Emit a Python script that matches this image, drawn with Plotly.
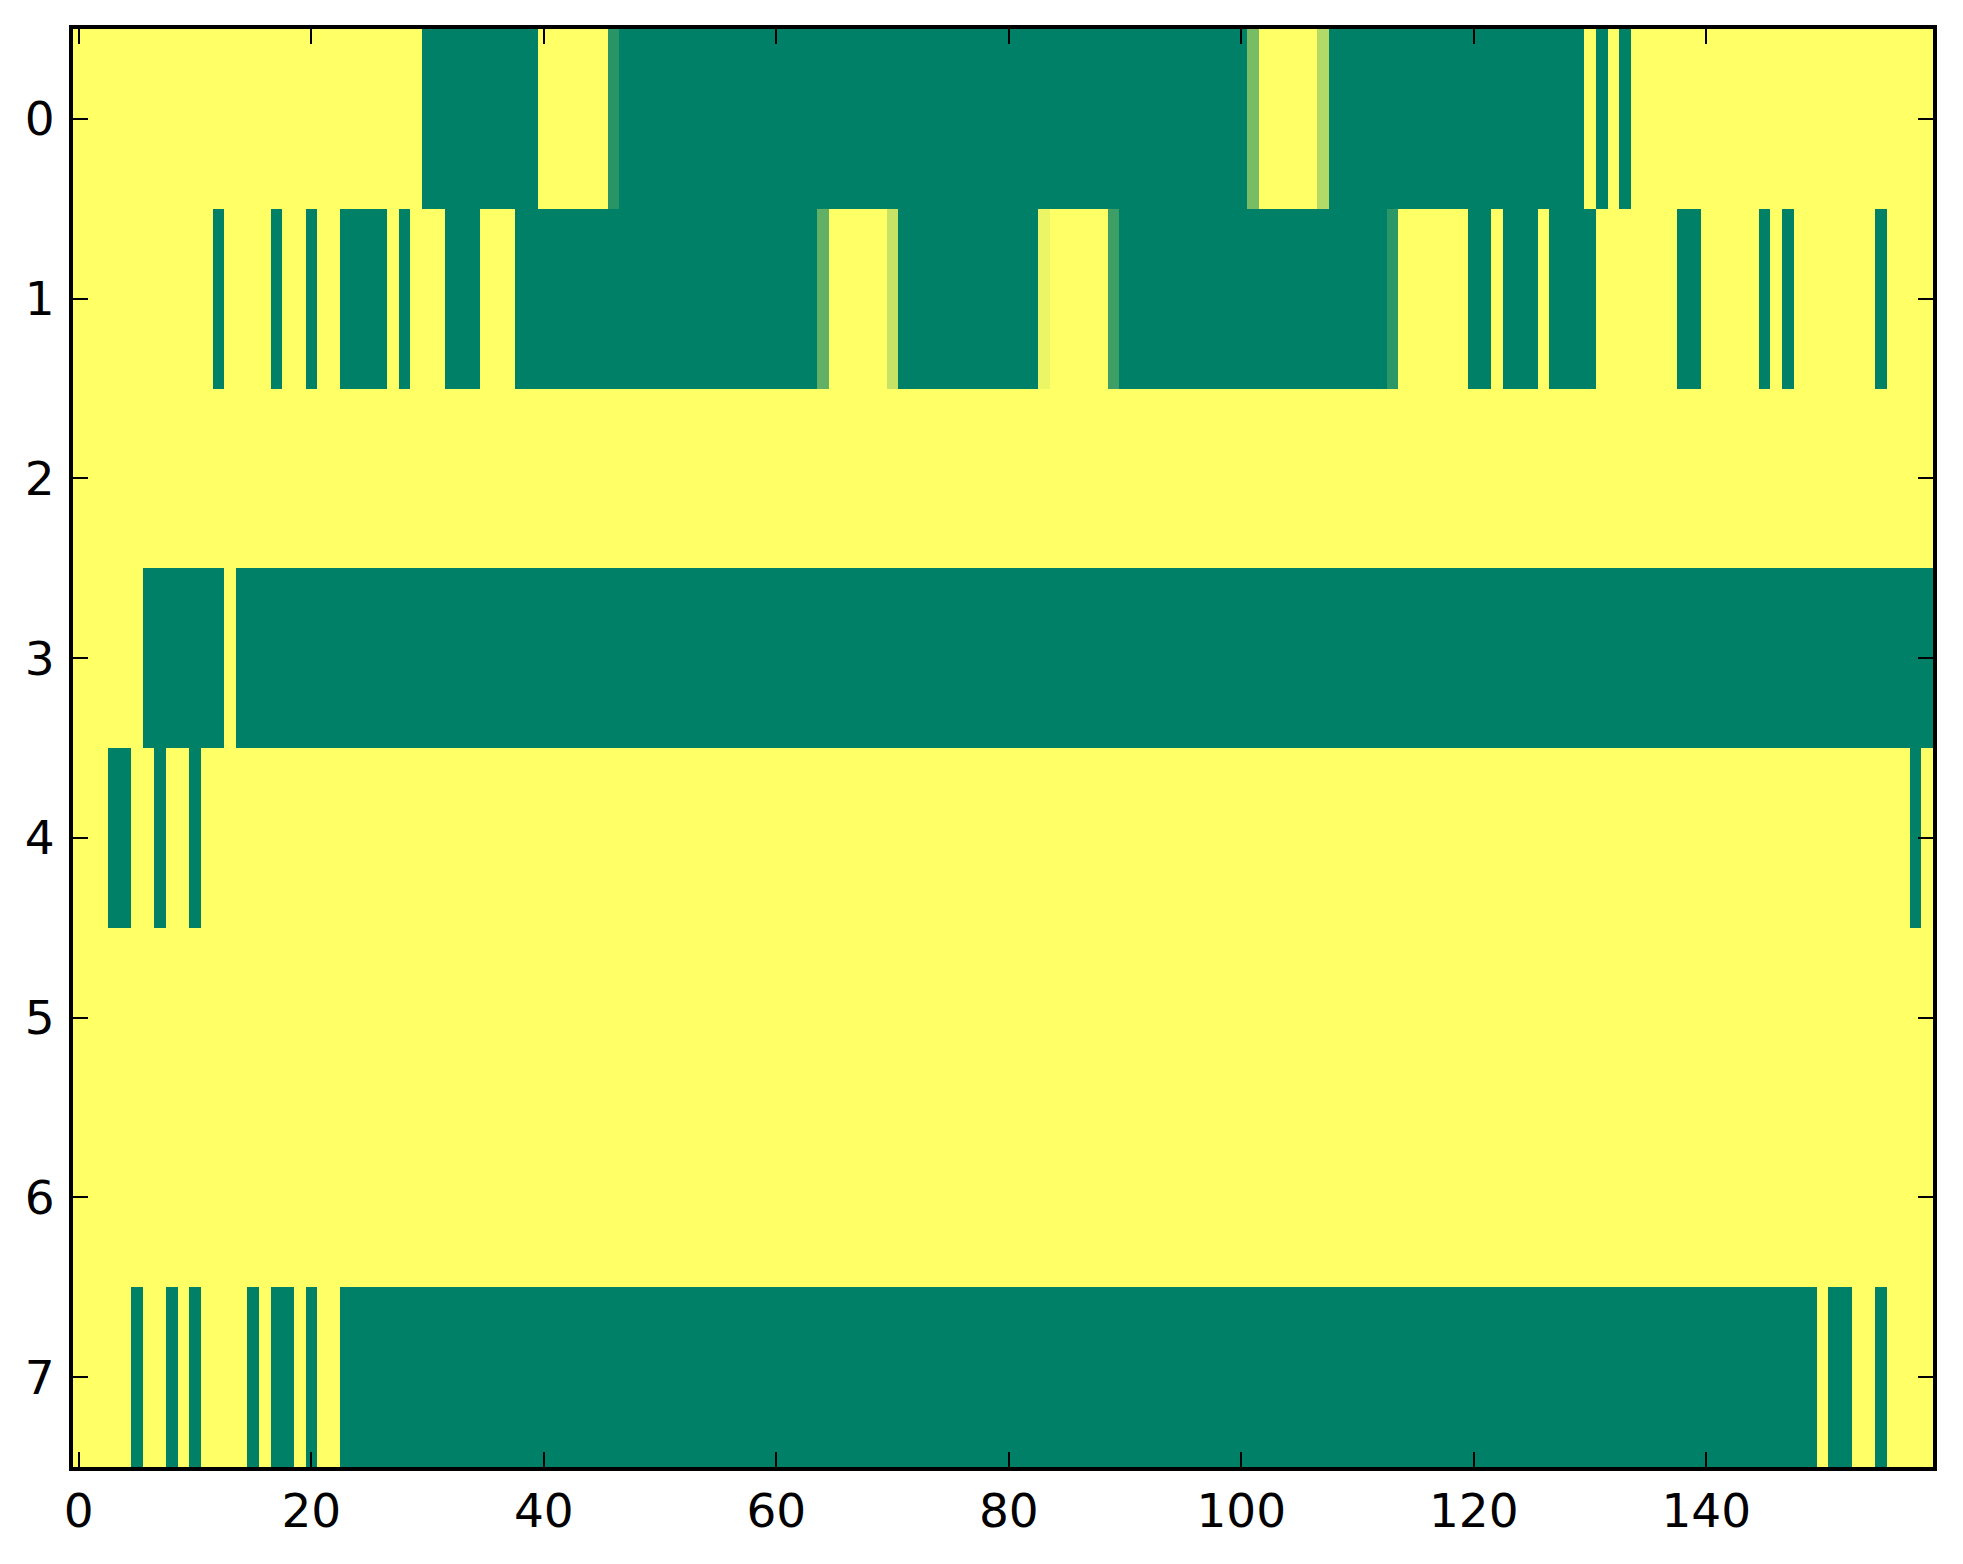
import plotly.graph_objects as go

# Cell values (0 = dark green, 1 = yellow, "summer" colormap); 8 rows x 160 columns
row0 = [1, 1, 1, 1, 1, 1, 1, 1, 1, 1, 1, 1, 1, 1, 1, 1, 1, 1, 1, 1,
        1, 1, 1, 1, 1, 1, 1, 1, 1, 1, 0, 0, 0, 0, 0, 0, 0, 0, 0, 0,
        1, 1, 1, 1, 1, 1, 0.16, 0, 0, 0, 0, 0, 0, 0, 0, 0, 0, 0, 0, 0,
        0, 0, 0, 0, 0, 0, 0, 0, 0, 0, 0, 0, 0, 0, 0, 0, 0, 0, 0, 0,
        0, 0, 0, 0, 0, 0, 0, 0, 0, 0, 0, 0, 0, 0, 0, 0, 0, 0, 0, 0,
        0, 0.47, 1, 1, 1, 1, 1, 0.70, 0, 0, 0, 0, 0, 0, 0, 0, 0, 0, 0, 0,
        0, 0, 0, 0, 0, 0, 0, 0, 0, 0, 1, 0, 1, 0, 1, 1, 1, 1, 1, 1,
        1, 1, 1, 1, 1, 1, 1, 1, 1, 1, 1, 1, 1, 1, 1, 1, 1, 1, 1, 1]

row1 = [1, 1, 1, 1, 1, 1, 1, 1, 1, 1, 1, 1, 0, 1, 1, 1, 1, 0, 1, 1,
        0, 1, 1, 0, 0, 0, 0, 1, 0, 1, 1, 1, 0, 0, 0, 1, 1, 1, 0, 0,
        0, 0, 0, 0, 0, 0, 0, 0, 0, 0, 0, 0, 0, 0, 0, 0, 0, 0, 0, 0,
        0, 0, 0, 0, 0.38, 1, 1, 1, 1, 1, 0.78, 0, 0, 0, 0, 0, 0, 0, 0, 0,
        0, 0, 0, 0.92, 1, 1, 1, 1, 1, 0.24, 0, 0, 0, 0, 0, 0, 0, 0, 0, 0,
        0, 0, 0, 0, 0, 0, 0, 0, 0, 0, 0, 0, 0, 0.17, 1, 1, 1, 1, 1, 1,
        0, 0, 1, 0, 0, 0, 1, 0, 0, 0, 0, 1, 1, 1, 1, 1, 1, 1, 0, 0,
        1, 1, 1, 1, 1, 0, 1, 0, 1, 1, 1, 1, 1, 1, 1, 0, 1, 1, 1, 1]

row2 = [1, 1, 1, 1, 1, 1, 1, 1, 1, 1, 1, 1, 1, 1, 1, 1, 1, 1, 1, 1,
        1, 1, 1, 1, 1, 1, 1, 1, 1, 1, 1, 1, 1, 1, 1, 1, 1, 1, 1, 1,
        1, 1, 1, 1, 1, 1, 1, 1, 1, 1, 1, 1, 1, 1, 1, 1, 1, 1, 1, 1,
        1, 1, 1, 1, 1, 1, 1, 1, 1, 1, 1, 1, 1, 1, 1, 1, 1, 1, 1, 1,
        1, 1, 1, 1, 1, 1, 1, 1, 1, 1, 1, 1, 1, 1, 1, 1, 1, 1, 1, 1,
        1, 1, 1, 1, 1, 1, 1, 1, 1, 1, 1, 1, 1, 1, 1, 1, 1, 1, 1, 1,
        1, 1, 1, 1, 1, 1, 1, 1, 1, 1, 1, 1, 1, 1, 1, 1, 1, 1, 1, 1,
        1, 1, 1, 1, 1, 1, 1, 1, 1, 1, 1, 1, 1, 1, 1, 1, 1, 1, 1, 1]

row3 = [1, 1, 1, 1, 1, 1, 0, 0, 0, 0, 0, 0, 0, 1, 0, 0, 0, 0, 0, 0,
        0, 0, 0, 0, 0, 0, 0, 0, 0, 0, 0, 0, 0, 0, 0, 0, 0, 0, 0, 0,
        0, 0, 0, 0, 0, 0, 0, 0, 0, 0, 0, 0, 0, 0, 0, 0, 0, 0, 0, 0,
        0, 0, 0, 0, 0, 0, 0, 0, 0, 0, 0, 0, 0, 0, 0, 0, 0, 0, 0, 0,
        0, 0, 0, 0, 0, 0, 0, 0, 0, 0, 0, 0, 0, 0, 0, 0, 0, 0, 0, 0,
        0, 0, 0, 0, 0, 0, 0, 0, 0, 0, 0, 0, 0, 0, 0, 0, 0, 0, 0, 0,
        0, 0, 0, 0, 0, 0, 0, 0, 0, 0, 0, 0, 0, 0, 0, 0, 0, 0, 0, 0,
        0, 0, 0, 0, 0, 0, 0, 0, 0, 0, 0, 0, 0, 0, 0, 0, 0, 0, 0, 0]

row4 = [1, 1, 1, 0, 0, 1, 1, 0, 1, 1, 0, 1, 1, 1, 1, 1, 1, 1, 1, 1,
        1, 1, 1, 1, 1, 1, 1, 1, 1, 1, 1, 1, 1, 1, 1, 1, 1, 1, 1, 1,
        1, 1, 1, 1, 1, 1, 1, 1, 1, 1, 1, 1, 1, 1, 1, 1, 1, 1, 1, 1,
        1, 1, 1, 1, 1, 1, 1, 1, 1, 1, 1, 1, 1, 1, 1, 1, 1, 1, 1, 1,
        1, 1, 1, 1, 1, 1, 1, 1, 1, 1, 1, 1, 1, 1, 1, 1, 1, 1, 1, 1,
        1, 1, 1, 1, 1, 1, 1, 1, 1, 1, 1, 1, 1, 1, 1, 1, 1, 1, 1, 1,
        1, 1, 1, 1, 1, 1, 1, 1, 1, 1, 1, 1, 1, 1, 1, 1, 1, 1, 1, 1,
        1, 1, 1, 1, 1, 1, 1, 1, 1, 1, 1, 1, 1, 1, 1, 1, 1, 1, 0, 1]

row5 = [1, 1, 1, 1, 1, 1, 1, 1, 1, 1, 1, 1, 1, 1, 1, 1, 1, 1, 1, 1,
        1, 1, 1, 1, 1, 1, 1, 1, 1, 1, 1, 1, 1, 1, 1, 1, 1, 1, 1, 1,
        1, 1, 1, 1, 1, 1, 1, 1, 1, 1, 1, 1, 1, 1, 1, 1, 1, 1, 1, 1,
        1, 1, 1, 1, 1, 1, 1, 1, 1, 1, 1, 1, 1, 1, 1, 1, 1, 1, 1, 1,
        1, 1, 1, 1, 1, 1, 1, 1, 1, 1, 1, 1, 1, 1, 1, 1, 1, 1, 1, 1,
        1, 1, 1, 1, 1, 1, 1, 1, 1, 1, 1, 1, 1, 1, 1, 1, 1, 1, 1, 1,
        1, 1, 1, 1, 1, 1, 1, 1, 1, 1, 1, 1, 1, 1, 1, 1, 1, 1, 1, 1,
        1, 1, 1, 1, 1, 1, 1, 1, 1, 1, 1, 1, 1, 1, 1, 1, 1, 1, 1, 1]

row6 = [1, 1, 1, 1, 1, 1, 1, 1, 1, 1, 1, 1, 1, 1, 1, 1, 1, 1, 1, 1,
        1, 1, 1, 1, 1, 1, 1, 1, 1, 1, 1, 1, 1, 1, 1, 1, 1, 1, 1, 1,
        1, 1, 1, 1, 1, 1, 1, 1, 1, 1, 1, 1, 1, 1, 1, 1, 1, 1, 1, 1,
        1, 1, 1, 1, 1, 1, 1, 1, 1, 1, 1, 1, 1, 1, 1, 1, 1, 1, 1, 1,
        1, 1, 1, 1, 1, 1, 1, 1, 1, 1, 1, 1, 1, 1, 1, 1, 1, 1, 1, 1,
        1, 1, 1, 1, 1, 1, 1, 1, 1, 1, 1, 1, 1, 1, 1, 1, 1, 1, 1, 1,
        1, 1, 1, 1, 1, 1, 1, 1, 1, 1, 1, 1, 1, 1, 1, 1, 1, 1, 1, 1,
        1, 1, 1, 1, 1, 1, 1, 1, 1, 1, 1, 1, 1, 1, 1, 1, 1, 1, 1, 1]

row7 = [1, 1, 1, 1, 1, 0, 1, 1, 0, 1, 0, 1, 1, 1, 1, 0, 1, 0, 0, 1,
        0, 1, 1, 0, 0, 0, 0, 0, 0, 0, 0, 0, 0, 0, 0, 0, 0, 0, 0, 0,
        0, 0, 0, 0, 0, 0, 0, 0, 0, 0, 0, 0, 0, 0, 0, 0, 0, 0, 0, 0,
        0, 0, 0, 0, 0, 0, 0, 0, 0, 0, 0, 0, 0, 0, 0, 0, 0, 0, 0, 0,
        0, 0, 0, 0, 0, 0, 0, 0, 0, 0, 0, 0, 0, 0, 0, 0, 0, 0, 0, 0,
        0, 0, 0, 0, 0, 0, 0, 0, 0, 0, 0, 0, 0, 0, 0, 0, 0, 0, 0, 0,
        0, 0, 0, 0, 0, 0, 0, 0, 0, 0, 0, 0, 0, 0, 0, 0, 0, 0, 0, 0,
        0, 0, 0, 0, 0, 0, 0, 0, 0, 0, 1, 0, 0, 1, 1, 0, 1, 1, 1, 1]

rows = [row0, row1, row2, row3, row4, row5, row6, row7]
row_index = list(range(len(rows)))
col_index = list(range(len(row0)))

x_tick_vals = [0, 20, 40, 60, 80, 100, 120, 140]
y_tick_vals = [0, 1, 2, 3, 4, 5, 6, 7]

summer = [[0.0, "rgb(0,128,102)"], [1.0, "rgb(255,255,102)"]]

fig = go.Figure(
    go.Heatmap(
        z=rows,
        x=col_index,
        y=row_index,
        colorscale=summer,
        zmin=0,
        zmax=1,
        showscale=False,
        zsmooth=False,
        hoverongaps=False,
    )
)

axis_font = dict(family="DejaVu Sans", size=47, color="black")

# page body has an 8px default margin, so the figure is slightly smaller
fig.update_layout(
    width=1947,
    height=1548,
    margin=dict(l=65, r=22, t=21, b=89, pad=0),
    paper_bgcolor="white",
    plot_bgcolor="white",
    showlegend=False,
)

fig.update_xaxes(
    range=[-0.5, len(row0) - 0.5],
    tickvals=x_tick_vals,
    ticktext=[str(v) for v in x_tick_vals],
    ticks="inside",
    ticklen=15,
    tickwidth=2,
    tickcolor="black",
    showline=True,
    linewidth=4,
    linecolor="black",
    mirror="ticks",
    showgrid=False,
    zeroline=False,
    tickfont=axis_font,
    ticklabelstandoff=0,
)

fig.update_yaxes(
    range=[len(rows) - 0.5, -0.5],
    tickvals=y_tick_vals,
    ticktext=[str(v) for v in y_tick_vals],
    ticks="inside",
    ticklen=15,
    tickwidth=2,
    tickcolor="black",
    showline=True,
    linewidth=4,
    linecolor="black",
    mirror="ticks",
    showgrid=False,
    zeroline=False,
    tickfont=axis_font,
    ticklabelstandoff=5,
)

fig.write_html("out.html")
